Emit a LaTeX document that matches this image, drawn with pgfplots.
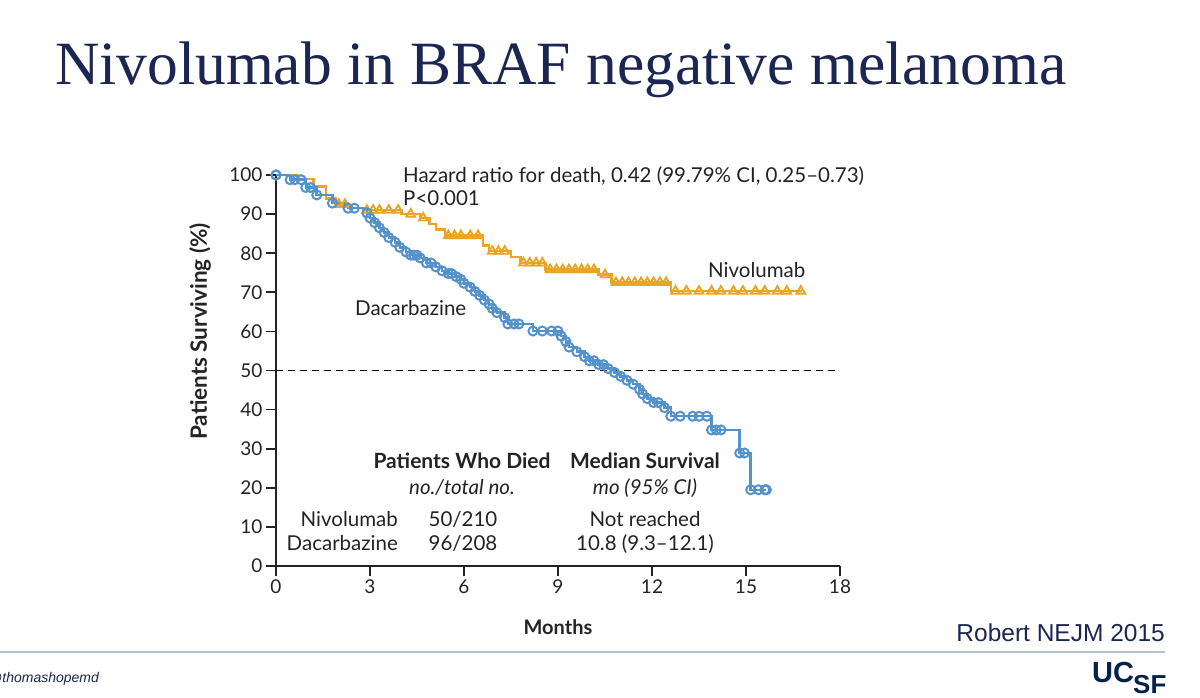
\documentclass[border=0pt]{standalone}
\usepackage{fontspec}
\setmainfont{Lato}
\newfontfamily\titlefont{Liberation Serif}
\newfontfamily\arialfont{Liberation Sans}
\usepackage{pgfplots}
\pgfplotsset{compat=1.18}
\definecolor{nivo}{RGB}{234,165,38}
\definecolor{dacb}{RGB}{84,146,206}
\definecolor{navy}{RGB}{28,38,82}
\definecolor{axisgray}{RGB}{35,35,35}
\definecolor{rulegray}{RGB}{180,192,208}
\definecolor{ucsf}{RGB}{5,32,73}

\pgfplotstableread{
m s
0 100
0.7 99
1.2 97
1.6 94
1.9 92.5
2.3 91.5
2.8 91
4.0 90
4.6 89
4.9 87.5
5.1 86
5.4 84.5
6.6 82
6.8 80.5
7.5 79
7.8 77.5
8.6 75.8
10.3 74.5
10.7 72.5
12.6 70.3
16.8 70.3
}\nivo

\pgfplotstableread{
m s
2.0 92.5
2.2 92.5
2.9 91
3.1 91
3.3 91
3.6 91
3.9 91
4.3 90
4.7 89
5.5 84.5
5.7 84.5
5.9 84.5
6.2 84.5
6.45 84.5
6.9 80.5
7.1 80.5
7.3 80.5
7.9 77.5
8.1 77.5
8.3 77.5
8.5 77.5
8.75 75.8
8.95 75.8
9.15 75.8
9.35 75.8
9.55 75.8
9.75 75.8
9.95 75.8
10.15 75.8
10.5 74.5
10.85 72.5
11.05 72.5
11.25 72.5
11.45 72.5
11.65 72.5
11.85 72.5
12.05 72.5
12.25 72.5
12.45 72.5
12.75 70.3
13.1 70.3
13.5 70.3
13.9 70.3
14.2 70.3
14.6 70.3
14.9 70.3
15.3 70.3
15.6 70.3
16.0 70.3
16.3 70.3
16.75 70.3
}\nivocens

\pgfplotstableread{
m s
0 100
0.45 98.8
0.95 96.8
1.3 94.9
1.8 92.8
2.3 91.5
2.9 90.3
3.0 89
3.15 87.8
3.3 86.5
3.45 85.3
3.6 84
3.8 82.8
3.95 81.5
4.15 80.3
4.3 79.5
4.6 78.8
4.8 77.5
5.1 76.5
5.3 75.5
5.5 74.8
5.75 74
5.9 73.3
6.0 72.3
6.2 71.3
6.35 70.2
6.5 69.2
6.65 68
6.8 67
6.9 65.9
7.05 64.8
7.3 63.5
7.4 61.9
8.2 60.1
9.1 58.8
9.25 57.4
9.35 56
9.6 54.8
9.85 53.5
10.0 52.5
10.3 51.5
10.6 50.5
10.8 49.5
11.0 48.5
11.2 47.5
11.4 46.5
11.6 45.2
11.7 44
11.85 42.8
12.05 41.8
12.4 40.5
12.6 38.3
13.9 34.8
14.8 28.9
15.15 19.5
15.65 19.5
}\dacb

\pgfplotstableread{
m s
0 100
0.6 98.8
0.8 98.8
1.1 96.8
2.5 91.5
4.4 79.5
4.5 79.5
4.95 77.5
5.6 74.8
7.6 61.9
7.75 61.9
8.5 60.1
8.8 60.1
9.0 60.1
10.15 52.5
10.45 51.5
12.2 41.8
12.9 38.3
13.3 38.3
13.5 38.3
13.75 38.3
14.05 34.8
14.2 34.8
14.95 28.9
15.4 19.5
15.6 19.5
}\dacbcens

\begin{document}
\begin{tikzpicture}[x=1pt,y=1pt]
\path[use as bounding box] (0,0) rectangle (1200,697);
\fill[white] (0,0) rectangle (1200,697);
\node[anchor=base west, inner sep=0, text=navy, font=\titlefont\fontsize{61.5}{61.5}\selectfont] at (55,612) {Nivolumab in BRAF negative melanoma};

\begin{axis}[
  at={(276pt,131pt)}, anchor=south west,
  width=564pt, height=391pt, scale only axis,
  xmin=0, xmax=18, ymin=0, ymax=100,
  axis x line*=bottom, axis y line*=left,
  axis line style={line width=1.6pt, color=axisgray, -},
  xtick={0,3,...,18}, ytick={0,10,...,100},
  tick align=outside, major tick length=10pt,
  tick style={line width=1.6pt, color=axisgray},
  ticklabel style={font=\fontsize{19}{19}\selectfont, text=axisgray},
  /pgf/number format/assume math mode=true,
  xlabel={Months}, ylabel={Patients Surviving (\%)},
  xlabel style={font=\bfseries\fontsize{20}{20}\selectfont, text=axisgray, at={(axis description cs:0.5,0)}, anchor=center, yshift=-61pt},
  ylabel style={font=\bfseries\fontsize{22.5}{22.5}\selectfont, text=axisgray, at={(axis description cs:-0.1348,0.6)}, anchor=center},
  clip=false,
]
\addplot[black, line width=1.2pt, dash pattern=on 7pt off 5pt] coordinates {(0,50) (18,50)};
\addplot[const plot, nivo, line width=2.5pt, no marks] table[x=m, y=s] {\nivo};
\addplot[only marks, mark=triangle, mark size=5pt, mark options={nivo, line width=1.9pt, fill=white}] table[x=m, y=s] {\nivocens};
\addplot[const plot, dacb, line width=2.5pt, mark=o, mark size=4.5pt, mark options={line width=2pt, solid, fill=white}] table[x=m, y=s] {\dacb};
\addplot[only marks, mark=o, mark size=4.5pt, mark options={dacb, line width=2pt, fill=white}] table[x=m, y=s] {\dacbcens};
\end{axis}

\begin{scope}[every node/.style={inner sep=0, text=axisgray, font=\fontsize{20.5}{20.5}\selectfont}]
\node[anchor=base west] at (403,514.5) {Hazard ratio for death, 0.42 (99.79\% CI, 0.25–0.73)};
\node[anchor=base west] at (403,491.5) {P<0.001};
\node[anchor=base west] at (708,419.5) {Nivolumab};
\node[anchor=base west] at (355,381.5) {Dacarbazine};
\node[anchor=base, font=\bfseries\fontsize{21}{21}\selectfont] at (462,228) {Patients Who Died};
\node[anchor=base, font=\bfseries\fontsize{21}{21}\selectfont] at (645,228) {Median Survival};
\node[anchor=base, font=\itshape\fontsize{20.5}{20.5}\selectfont] at (462,202) {no./total no.};
\node[anchor=base, font=\itshape\fontsize{20.5}{20.5}\selectfont] at (645,202) {mo (95\% CI)};
\node[anchor=base east] at (398,171) {Nivolumab};
\node[anchor=base east] at (398,147) {Dacarbazine};
\node[anchor=base] at (463,171) {50/210};
\node[anchor=base] at (463,147) {96/208};
\node[anchor=base] at (645,171) {Not reached};
\node[anchor=base] at (645,147) {10.8 (9.3–12.1)};
\end{scope}

\node[anchor=base east, inner sep=0, text=navy, font=\arialfont\fontsize{24.5}{24.5}\selectfont] at (1165,56) {Robert NEJM 2015};
\draw[rulegray, line width=2pt] (0,45) -- (1165,45);
\node[anchor=base west, inner sep=0, text=navy, font=\arialfont\itshape\fontsize{14}{14}\selectfont] at (-12,15) {@thomashopemd};
\node[anchor=base west, inner sep=0, text=ucsf, font=\arialfont\bfseries\fontsize{29}{29}\selectfont] at (1092,15) {UC};
\node[anchor=base west, inner sep=0, text=ucsf, font=\arialfont\bfseries\fontsize{26}{26}\selectfont] at (1133,4) {SF};
\end{tikzpicture}
\end{document}
